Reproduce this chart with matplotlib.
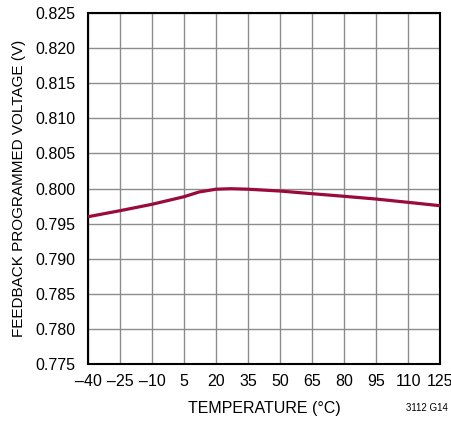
import numpy as np
import matplotlib
matplotlib.use("Agg")
import matplotlib.pyplot as plt

plt.rcParams['font.family'] = ['Liberation Sans', 'DejaVu Sans']

# data
temp = [-40, -25, -10, 5, 12, 20, 27, 35, 50, 65, 80, 95, 110, 125]
vfb = [0.79598, 0.79684, 0.79775, 0.79883, 0.79950, 0.79990, 0.79997, 0.79990,
       0.79964, 0.79926, 0.79889, 0.79850, 0.79803, 0.79755]

xticks = list(range(-40, 126, 15))
xlabels = [str(t).replace('-', '\u2013') for t in xticks]
yticks = np.arange(0.775, 0.8251, 0.005)

fig = plt.figure(figsize=(4.52, 4.21), dpi=100)
ax = fig.add_axes([0.1947, 0.1354, 0.9735 - 0.1947, 0.9691 - 0.1354])

ax.plot(temp, vfb, color='#9b0a3c', lw=2.3, solid_capstyle='butt', zorder=3)

ax.set_xlim(-40, 125)
ax.set_ylim(0.775, 0.825)
ax.set_xticks(xticks)
ax.set_xticklabels(xlabels)
ax.set_yticks(yticks)
ax.set_yticklabels(['%.3f' % v for v in yticks])
ax.grid(True, color='#8c8c8c', lw=1.0)
ax.tick_params(axis='x', length=0, labelsize=11.5, pad=7)
ax.tick_params(axis='y', length=0, labelsize=11.5, pad=9)
for s in ax.spines.values():
    s.set_linewidth(1.5)
    s.set_color('black')

ax.set_xlabel('TEMPERATURE (°C)', fontsize=11.5, labelpad=9)
ax.set_ylabel('FEEDBACK PROGRAMMED VOLTAGE (V)', fontsize=11, labelpad=7)
fig.text(0.99, 0.018, '3112 G14', fontsize=7, ha='right', va='bottom')

fig.savefig('out.png', dpi=100)
